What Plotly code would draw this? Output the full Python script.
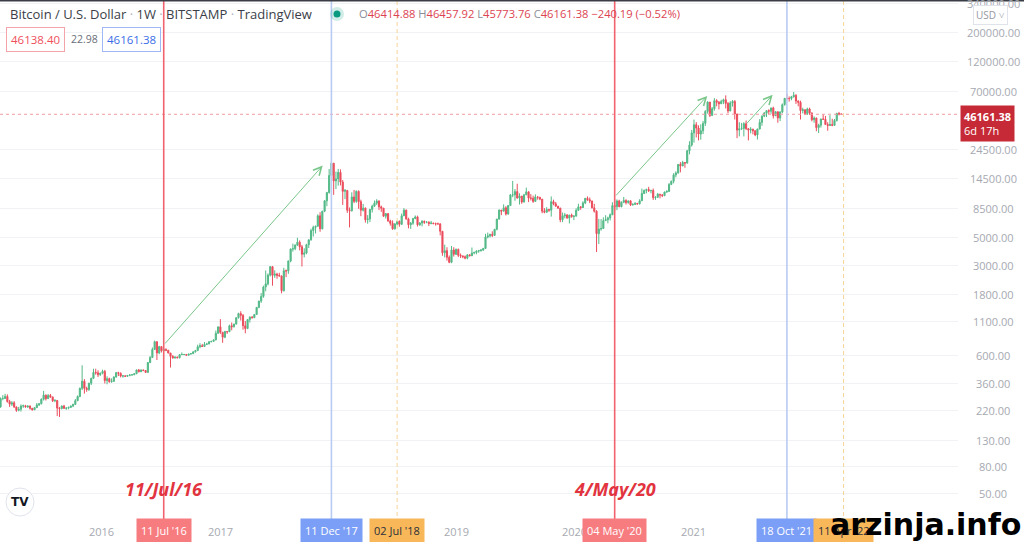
import numpy as np
import pandas as pd
import plotly.graph_objects as go

# ---------------- data (weekly BTC/USD, Bitstamp, week starting Mondays) ----------------
first_week = "2015-02-16"
first_open = 228
last_open = 46414.88

closes = [
    # 2015
    236, 275, 275, 285, 260, 248, 254, 236, 222, 226, 240, 241, 236, 240, 230, 224, 233, 245, 250, 271,
    292, 274, 290, 282, 264, 265, 231, 229, 240, 230, 231, 234, 240, 247, 264, 285, 330, 375, 330, 323,
    362, 395, 440, 437, 422, 434,
    # 2016
    448, 380, 393, 372, 375, 405, 438, 433, 412, 413, 410, 416, 420, 422, 429, 460, 445, 460, 455, 440,
    525, 576, 665, 765, 625, 700, 650, 665, 655, 624, 588, 570, 580, 574, 606, 607, 608, 600, 612, 617,
    637, 651, 698, 712, 702, 729, 735, 765, 770, 790, 890, 1000,
    # 2017
    905, 830, 920, 915, 1020, 1000, 1050, 1180, 1270, 1230, 1020, 970, 1140, 1190, 1180, 1250, 1420,
    1590, 1730, 2050, 2170, 2540, 2960, 2530, 2590, 2530, 2500, 1920, 2750, 2740, 3280, 4070, 4090,
    4380, 4600, 4230, 3700, 3780, 4400, 4800, 5680, 6010, 6140, 7400, 5860, 8050, 9700, 11250, 15300,
    19100, 13900, 14400,
    # 2018
    16200, 13600, 11500, 11700, 8200, 8100, 10400, 9600, 11500, 9550, 8200, 8500, 6900, 7000, 8300,
    8800, 9300, 9650, 8700, 8500, 7350, 7700, 6750, 6460, 5850, 6380, 6700, 6350, 7400, 8200, 7000,
    6300, 6480, 7050, 7260, 6300, 6500, 6700, 6580, 6600, 6440, 6500, 6420, 6400, 6400, 5600, 3800,
    3950, 3500, 3200, 4000, 3700, 4040,
    # 2019
    3630, 3590, 3540, 3450, 3660, 3600, 3780, 3820, 3920, 3950, 3990, 4110, 5050, 5150, 5300, 5200,
    5800, 6980, 8200, 8050, 8550, 7650, 8900, 10800, 10800, 11450, 10200, 10550, 9500, 10800, 11400,
    10200, 10150, 9600, 10400, 10350, 10000, 8050, 7900, 8300, 8200, 9550, 9200, 8800, 8500, 6900,
    7400, 7500, 7100, 7500, 7300, 7350,
    # 2020
    8180, 8700, 8600, 9340, 10150, 9900, 9670, 8550, 8040, 5360, 5830, 5890, 6780, 6900, 7130, 7540,
    8900, 8720, 9680, 8720, 9450, 9760, 9390, 9690, 9000, 9070, 9240, 9170, 9700, 11070, 11680, 11900,
    11650, 11700, 10250, 10320, 10930, 10780, 10660, 11370, 11500, 13030, 13790, 15480, 16050, 18700,
    18200, 19350, 19150, 23870, 26500, 33000,
    # 2021
    38200, 36000, 32300, 34300, 39200, 48600, 57500, 45200, 51000, 59000, 57400, 55800, 58200, 60000,
    56200, 49000, 56600, 58200, 46400, 34700, 35600, 35800, 39000, 35600, 34700, 35300, 34300, 31800,
    35400, 39900, 44600, 47100, 49300, 48800, 51800, 45000, 48300, 43200, 48200, 54900, 61500, 61300,
    61300, 63300, 65000, 58600, 57300, 49400, 50100, 46700, 50800, 47300,
    # 2022
    41800, 43100, 36300, 37900, 42400, 42200, 38400, 37700, 38400, 37800, 41300, 46800, 46400, 46161.38,
]

highs = [
    # 2015
    245, 280, 292, 299, 296, 268, 262, 262, 238, 236, 247, 246, 245, 242, 242, 232, 236, 253, 253, 275,
    315, 295, 298, 298, 285, 272, 268, 236, 242, 245, 235, 237, 242, 250, 272, 290, 335, 500, 390, 340,
    365, 400, 470, 470, 457, 438,
    # 2016
    462, 460, 410, 400, 395, 410, 443, 445, 440, 420, 418, 420, 425, 425, 432, 462, 468, 462, 462, 456,
    530, 590, 690, 780, 770, 710, 705, 680, 680, 660, 625, 600, 585, 585, 610, 630, 612, 612, 615, 620,
    640, 660, 725, 745, 735, 760, 750, 770, 775, 795, 935, 1000,
    # 2017
    1150, 915, 930, 925, 1040, 1080, 1060, 1185, 1290, 1325, 1260, 1110, 1150, 1210, 1215, 1260, 1430,
    1600, 1840, 2100, 2760, 2620, 2990, 2990, 2770, 2650, 2650, 2530, 2900, 2810, 3300, 4100, 4480,
    4400, 4980, 4750, 4380, 4120, 4470, 4830, 5860, 6190, 6190, 7600, 7900, 8080, 9800, 11400, 17200,
    19700, 19200, 16400,
    # 2018
    17250, 17100, 14100, 12000, 11700, 8600, 11300, 11800, 11700, 11700, 9900, 9170, 8600, 7500, 8400,
    9050, 9750, 9990, 9800, 8900, 8500, 7770, 7780, 6900, 6820, 6500, 6750, 6800, 7700, 8500, 8280,
    7150, 6620, 7130, 7450, 7420, 6600, 6850, 6800, 6700, 6700, 6750, 6520, 6550, 6550, 6480, 5580,
    4400, 4200, 3620, 4300, 4200, 4110,
    # 2019
    4100, 3750, 3620, 3620, 3700, 3700, 4180, 3880, 3980, 4000, 4070, 4150, 5350, 5470, 5350, 5600,
    5850, 7000, 8300, 8230, 9100, 8800, 9000, 10900, 13880, 12000, 13200, 11100, 10600, 11000, 12300,
    11500, 10950, 10650, 10900, 10500, 10350, 10000, 8500, 8650, 8400, 10500, 9900, 9500, 8850, 8550,
    7850, 7800, 7650, 7520, 7700, 7500,
    # 2020
    8480, 9200, 8800, 9620, 10160, 10500, 10300, 9700, 9180, 8180, 7000, 6980, 7200, 7480, 7290, 7730,
    9450, 10000, 9950, 9880, 9600, 10400, 9990, 9700, 9800, 9300, 9480, 9350, 9990, 12100, 11900, 12080,
    12480, 11800, 12100, 10550, 11180, 10950, 10950, 11450, 11730, 13350, 14000, 15970, 16480, 18800,
    19500, 19920, 19420, 24300, 28400, 34800,
    # 2021
    41950, 40100, 37800, 38500, 40950, 49700, 58300, 57500, 52600, 61800, 60600, 58600, 60000, 61200,
    64900, 57500, 58400, 59600, 59600, 46600, 40000, 39500, 40000, 41300, 36000, 36600, 35500, 34600,
    35500, 42300, 45300, 48100, 49400, 50500, 51900, 52900, 48800, 45200, 48500, 56100, 62000, 67000,
    63700, 64300, 69000, 66300, 59300, 59000, 51900, 50000, 52000, 52000,
    # 2022
    47600, 44400, 43500, 38900, 42600, 45900, 44800, 40000, 45400, 42600, 42400, 47500, 48200, 46457.92,
]

lows = [
    # 2015
    220, 233, 266, 272, 255, 236, 240, 232, 216, 218, 217, 232, 233, 232, 225, 221, 224, 232, 240, 247,
    265, 265, 272, 278, 258, 257, 200, 197, 226, 228, 224, 226, 233, 235, 245, 262, 281, 320, 300, 310,
    315, 350, 390, 422, 405, 413,
    # 2016
    425, 360, 355, 365, 365, 370, 400, 412, 402, 400, 405, 408, 410, 415, 418, 427, 440, 443, 450, 435,
    438, 520, 570, 660, 550, 610, 630, 645, 645, 620, 480, 565, 565, 565, 565, 602, 600, 592, 598, 608,
    612, 630, 650, 680, 695, 695, 725, 730, 755, 765, 785, 885,
    # 2017
    880, 750, 815, 880, 915, 940, 990, 1050, 1160, 1120, 950, 890, 960, 1080, 1160, 1170, 1240, 1400,
    1540, 1690, 1900, 2110, 2480, 2100, 2420, 2380, 2480, 1830, 1890, 2450, 2600, 3200, 3880, 3980,
    4300, 3970, 2970, 3500, 3700, 4140, 4730, 5100, 5380, 6100, 5550, 5780, 7900, 8800, 11050, 15000,
    10800, 12000,
    # 2018
    12750, 12800, 9000, 10000, 7800, 6000, 8000, 9300, 9350, 8400, 7350, 8000, 6550, 6420, 6600, 7850,
    8700, 9000, 8200, 7950, 7250, 7040, 6650, 6200, 5750, 5780, 6250, 6080, 6280, 7400, 6900, 5900,
    5850, 6290, 6960, 6100, 6180, 6120, 6400, 6480, 6150, 6350, 6390, 6200, 6320, 5200, 3600, 3500,
    3300, 3150, 3150, 3550, 3650,
    # 2019
    3520, 3460, 3440, 3380, 3380, 3570, 3630, 3700, 3700, 3800, 3880, 3930, 4100, 4930, 5000, 5050,
    5150, 5700, 6900, 7490, 8000, 7450, 7550, 8900, 10350, 9700, 10100, 9070, 9200, 9400, 10800, 9470,
    9750, 9350, 9600, 9900, 9800, 7750, 7750, 7800, 7950, 7300, 8950, 8750, 8400, 6600, 6600, 7070,
    7050, 6450, 7150, 6850,
    # 2020
    7350, 8080, 8250, 8520, 9130, 9700, 9300, 8450, 7850, 3850, 4450, 5660, 5850, 6770, 6460, 6810,
    7500, 8100, 8200, 8650, 8640, 9300, 9080, 9210, 8830, 8900, 9050, 9050, 9100, 9670, 10950, 11100,
    11370, 11100, 9850, 9870, 10270, 10140, 10370, 10540, 11200, 11350, 12870, 13290, 14800, 15800,
    16200, 18100, 17600, 19000, 22400, 25800,
    # 2021
    27700, 30400, 28800, 29200, 32300, 37400, 46700, 43900, 45000, 49300, 53300, 50400, 55700, 55400,
    51300, 47000, 48800, 53000, 42000, 30000, 31000, 34800, 31000, 34800, 28800, 32700, 32100, 31100,
    29300, 35200, 37500, 43800, 43900, 46300, 46600, 42800, 44700, 39600, 40800, 47000, 53900, 59500,
    58000, 59400, 62300, 55600, 53300, 42000, 46900, 45500, 45600, 45700,
    # 2022
    40600, 39600, 34000, 32900, 36300, 41800, 38000, 34300, 37400, 37200, 37600, 40500, 45200, 45773.76,
]

assert len(closes) == len(highs) == len(lows), (len(closes), len(highs), len(lows))

y_ticks = [340000, 200000, 120000, 70000, 24500, 14500, 8500, 5000, 3000, 1800, 1100, 600, 360, 220, 130, 80, 50]
year_labels = ["2016", "2017", "2019", "2020", "2021"]
year_dates = ["2016-01-01", "2017-01-01", "2019-01-01", "2020-01-01", "2021-01-01"]

marker_dates = ["2016-07-11", "2017-12-11", "2018-07-02", "2020-05-04", "2021-10-18", "2022-04-11"]
marker_texts = ["11 Jul '16", "11 Dec '17", "02 Jul '18", "04 May '20", "18 Oct '21", "11 Apr '22"]
marker_kinds = ["red", "blue", "orange", "red", "blue", "orange"]

arrow_start_dates = ["2016-07-11", "2020-05-04", "2021-06-12"]
arrow_start_prices = [720, 10400, 38100]
arrow_end_dates = ["2017-11-14", "2021-02-14", "2021-09-04"]
arrow_end_prices = [18300, 64300, 65500]

note_dates = ["2016-07-11", "2020-05-04"]
note_texts = ["11/Jul/16", "4/May/20"]

header_title = "Bitcoin / U.S. Dollar · 1W · BITSTAMP · TradingView"
ohlc_values = [("O", "46414.88"), ("H", "46457.92"), ("L", "45773.76"), ("C", "46161.38")]
change_text = "\u2212240.19 (\u22120.52%)"
bid_text, spread_text, ask_text = "46138.40", "22.98", "46161.38"
countdown = "6d 17h"

# ---------------- derived ----------------
weeks = pd.date_range(start=first_week, periods=len(closes), freq="7D")
opens = [first_open] + closes[:-1]
opens[-1] = last_open

W, H = 1024, 542
PLOT_R = 958
PLOT_B = 26

def px_x(p):
    return p / W

def px_y(p):
    return 1 - p / H

X_RANGE = ["2015-02-21 07:00", "2023-03-30 12:00"]
Y_RANGE = [1.519, 5.559]

UP, DOWN = "#53b987", "#eb4d5c"
FONT = "Open Sans"

fig = go.Figure()
fig.add_trace(go.Candlestick(
    x=weeks, open=opens, high=highs, low=lows, close=closes,
    increasing=dict(line=dict(color=UP, width=1), fillcolor=UP),
    decreasing=dict(line=dict(color=DOWN, width=1), fillcolor=DOWN),
    whiskerwidth=0, hoverinfo="skip", showlegend=False,
))

# current price dotted line
fig.add_trace(go.Scatter(
    x=X_RANGE, y=[closes[-1], closes[-1]], mode="lines",
    line=dict(color="#f19aa1", width=1, dash="dot"),
    hoverinfo="skip", showlegend=False,
))

shapes = []
annotations = []

line_colors = {"red": "#f0626d", "blue": "#b9cbf2", "orange": "#f5d49a"}
box_colors = {"red": "#f77c80", "blue": "#7b9ef6", "orange": "#f8b85a"}
box_text = {"red": "white", "blue": "white", "orange": "#2a2e39"}

for d, kind in zip(marker_dates, marker_kinds):
    shapes.append(dict(
        type="line", xref="x", yref="paper", x0=d, x1=d, y0=px_y(530), y1=1,
        line=dict(color=line_colors[kind], width=1.6 if kind != "orange" else 1,
                  dash="solid" if kind != "orange" else "4px,3px"),
        layer="above",
    ))

# top dark border
shapes.append(dict(type="rect", xref="paper", yref="paper", x0=0, x1=1, y0=px_y(1.5), y1=1,
                   line=dict(width=0), fillcolor="#3a3d45", layer="above"))

# green status dot
shapes.append(dict(type="circle", xref="paper", yref="paper",
                   x0=px_x(330), x1=px_x(344), y0=px_y(21), y1=px_y(7),
                   line=dict(width=0), fillcolor="rgba(8,153,129,0.18)"))
shapes.append(dict(type="circle", xref="paper", yref="paper",
                   x0=px_x(333.5), x1=px_x(340.5), y0=px_y(17.5), y1=px_y(10.5),
                   line=dict(width=0), fillcolor="#089981"))

# TV logo circle
shapes.append(dict(type="circle", xref="paper", yref="paper",
                   x0=px_x(6), x1=px_x(34), y0=px_y(516), y1=px_y(488),
                   line=dict(color="#e0e3eb", width=1), fillcolor="white", layer="above"))

# y-axis tick labels (centered like TradingView)
for v in y_ticks:
    annotations.append(dict(
        x=px_x(993), xref="paper", y=np.log10(v), yref="y", text=f"{v:.2f}",
        showarrow=False, xanchor="center", yanchor="middle",
        font=dict(family=FONT, size=11, color="#a6a9b1"),
    ))

# USD box
annotations.append(dict(
    x=px_x(990.5), xref="paper", y=px_y(14.5), yref="paper", text="USD \u02c5",
    showarrow=False, xanchor="center", yanchor="middle",
    font=dict(family=FONT, size=10, color="#9598a1"),
    bgcolor="white", bordercolor="#e0e3eb", borderwidth=1, borderpad=2,
))

# current price label on axis
annotations.append(dict(
    x=px_x(960), xref="paper", y=px_y(105), yref="paper",
    text=f"<b>{closes[-1]:.2f}</b><br>{countdown}",
    showarrow=False, xanchor="left", yanchor="top", align="left",
    font=dict(family=FONT, size=11, color="white"),
    bgcolor="#c62a36", borderpad=3,
))

# year labels
for lab, d in zip(year_labels, year_dates):
    annotations.append(dict(
        x=d, xref="x", y=px_y(531), yref="paper", text=lab, showarrow=False,
        xanchor="center", yanchor="middle", font=dict(family=FONT, size=11, color="#a6a9b1"),
    ))

# date marker boxes
for d, t, kind in zip(marker_dates, marker_texts, marker_kinds):
    annotations.append(dict(
        x=d, xref="x", y=px_y(530.5), yref="paper", text=t, showarrow=False,
        xanchor="center", yanchor="middle",
        font=dict(family=FONT, size=11, color=box_text[kind]),
        bgcolor=box_colors[kind], borderpad=4,
    ))

# red italic notes
for d, t in zip(note_dates, note_texts):
    annotations.append(dict(
        x=d, xref="x", y=px_y(489), yref="paper", text=f"<b><i>{t}</i></b>", showarrow=False,
        xanchor="center", yanchor="middle", font=dict(family=FONT, size=18, color="#e2343f"),
    ))

# green trend arrows
for sd, sp, ed, ep in zip(arrow_start_dates, arrow_start_prices, arrow_end_dates, arrow_end_prices):
    annotations.append(dict(
        x=ed, y=np.log10(ep), xref="x", yref="y",
        ax=sd, ay=np.log10(sp), axref="x", ayref="y",
        text="", showarrow=True, arrowhead=5, arrowsize=1.6, arrowwidth=1,
        arrowcolor="#79c68a",
    ))

# header line
sep = "<span style='color:#b2b5be'> · </span>"
title_html = sep.join(part.strip() for part in header_title.split("·"))
annotations.append(dict(
    x=px_x(8), xref="paper", y=px_y(14), yref="paper", text=title_html, showarrow=False,
    xanchor="left", yanchor="middle", font=dict(family=FONT, size=13, color="#3b3e48"),
))
ohlc_html = " ".join(f"<span style='color:#8a8d96'>{k}</span>{v}" for k, v in ohlc_values) + " " + change_text
annotations.append(dict(
    x=px_x(357), xref="paper", y=px_y(14), yref="paper", text=ohlc_html, showarrow=False,
    xanchor="left", yanchor="middle", font=dict(family=FONT, size=11.2, color="#dc4452"),
))

# bid / spread / ask boxes
annotations.append(dict(
    x=px_x(35.5), xref="paper", y=px_y(39), yref="paper", text=bid_text, showarrow=False,
    xanchor="center", yanchor="middle", font=dict(family=FONT, size=11.5, color="#ef4f5b"),
    bgcolor="white", bordercolor="#f4a3a9", borderwidth=1, borderpad=4,
))
annotations.append(dict(
    x=px_x(84), xref="paper", y=px_y(39), yref="paper", text=spread_text, showarrow=False,
    xanchor="center", yanchor="middle", font=dict(family=FONT, size=10.5, color="#6a6d78"),
))
annotations.append(dict(
    x=px_x(131.5), xref="paper", y=px_y(39), yref="paper", text=ask_text, showarrow=False,
    xanchor="center", yanchor="middle", font=dict(family=FONT, size=11.5, color="#3a6ee8"),
    bgcolor="white", bordercolor="#9fb7f4", borderwidth=1, borderpad=4,
))

# TV logo text
annotations.append(dict(
    x=px_x(20), xref="paper", y=px_y(502), yref="paper", text="<b>TV</b>", showarrow=False,
    xanchor="center", yanchor="middle", font=dict(family="DejaVu Sans", size=12, color="#131722"),
))

# watermark
annotations.append(dict(
    x=px_x(1023), xref="paper", y=px_y(524), yref="paper", text="<b>arzinja.info</b>", showarrow=False,
    xanchor="right", yanchor="middle", font=dict(family="DejaVu Sans", size=30, color="#000000"),
))

fig.update_layout(
    width=W, height=H,
    margin=dict(l=0, r=0, t=0, b=0),
    paper_bgcolor="white", plot_bgcolor="white",
    showlegend=False,
    xaxis=dict(domain=[0, PLOT_R / W], range=X_RANGE, type="date",
               showgrid=False, showticklabels=False, zeroline=False, showline=False,
               rangeslider=dict(visible=False), fixedrange=True),
    yaxis=dict(domain=[PLOT_B / H, 1], type="log", range=Y_RANGE, side="right",
               tickvals=y_ticks, showticklabels=False, ticks="",
               showgrid=True, gridcolor="#f0f2f6", gridwidth=1,
               zeroline=False, showline=False, fixedrange=True),
    shapes=shapes,
    annotations=annotations,
)

fig.write_html(
    "out.html",
    config={"displayModeBar": False},
    post_script="document.body.style.margin='0';document.body.style.overflow='hidden';",
)
